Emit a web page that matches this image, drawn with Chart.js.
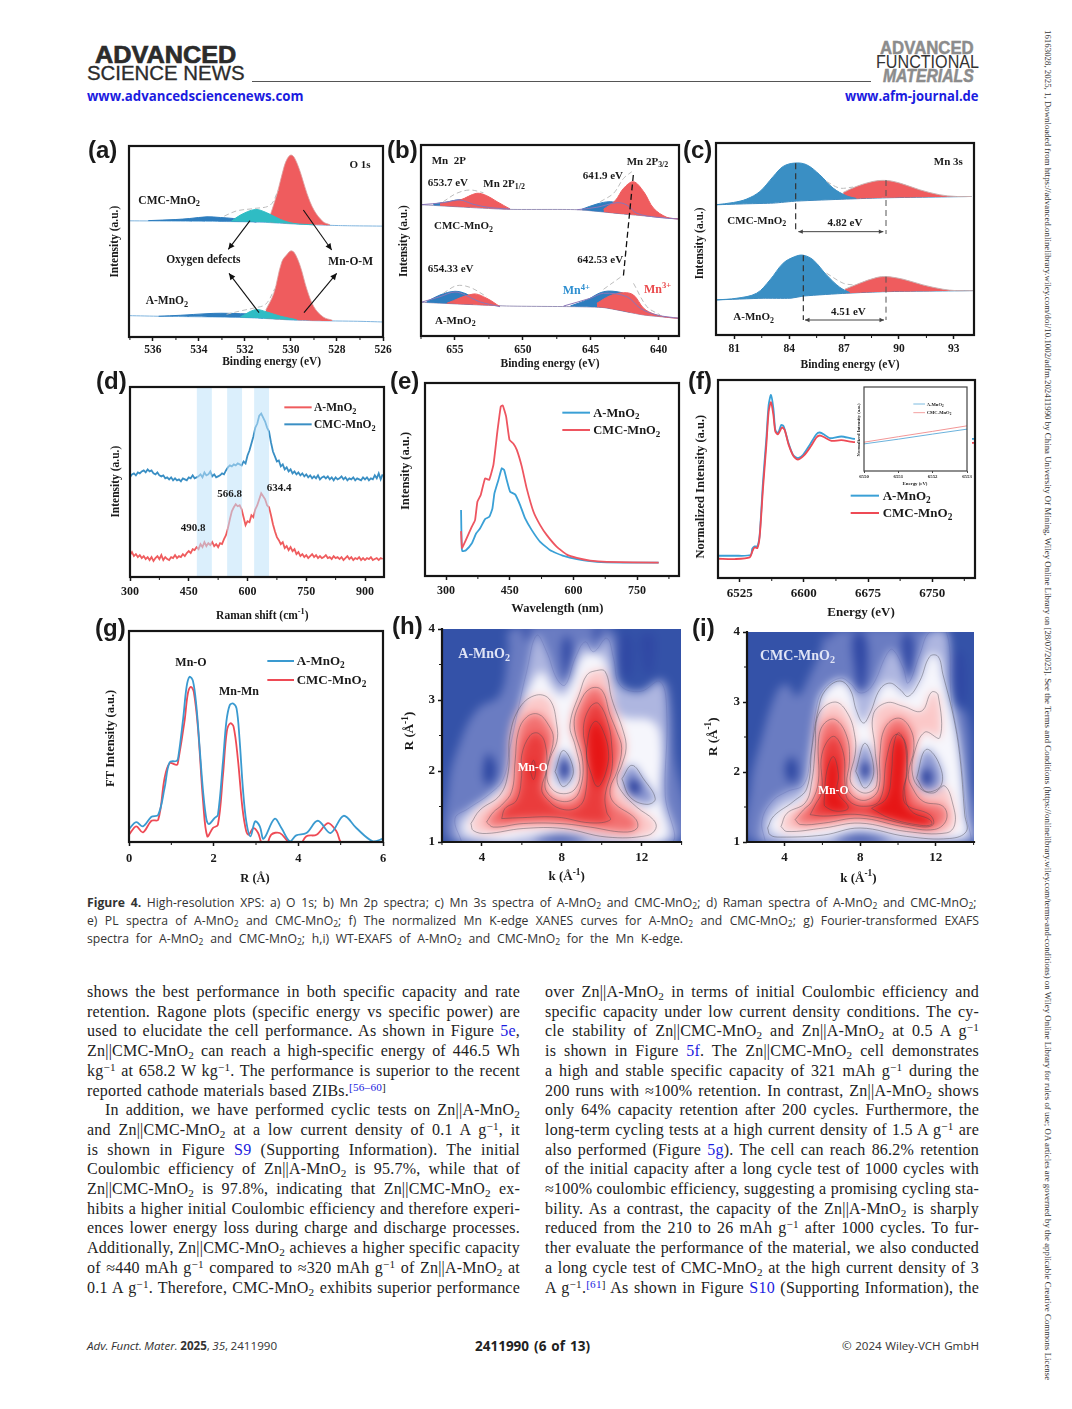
<!DOCTYPE html>
<html><head><meta charset="utf-8">
<script src="https://cdn.jsdelivr.net/npm/chart.js@4"></script>
<style>
html,body{margin:0;padding:0;background:#fff}
#page{position:relative;width:1072px;height:1409px;overflow:hidden;background:#fff}
canvas{position:absolute}
.t{position:absolute;white-space:nowrap;line-height:20px}
.t sub{font-size:70%;vertical-align:-0.25em;line-height:0}
.t sup{font-size:70%;vertical-align:0.45em;line-height:0}
.body{font-family:"Liberation Serif",serif;font-size:16px;letter-spacing:.22px;color:#222}
.cap{font-family:"Open Sans",sans-serif;font-size:12.2px;color:#333}
.lnk{color:#1b1be0}
</style></head><body><div id="page"></div>
<script>
// ---------- (a) O 1s ----------
const aTicks=[536,534,532,530,528,526];
const aCmcBaseX=[537,535,533,532,531,530,529,528,527.3,526];
const aCmcBaseY=[116,115.7,115.3,115,114.3,113,112,111.3,111,110.7];
const aCmcBlueX=[536.2,535,534.4,533.65,533.07,532.5,532,531.5];
const aCmcBlueY=[116.2,117.3,118.3,120,119.3,118.3,116.5,114.8];
const aCmcTealX=[532.6,532.2,531.55,531.05,530.45,529.9,529];
const aCmcTealY=[115.3,121.7,127.3,124,117.3,113.5,112];
const aCmcRedX=[530.9,530.6,530.3,530.15,530,529.85,529.6,529.3,529,528.6,528.3];
const aCmcRedY=[121.7,143.3,170,178.5,181.7,179,165,143,126.7,115,112];
const aCmcEnvX=[532.9,532.35,531.6,530.9,530.55];
const aCmcEnvY=[120.7,126,128.3,131.7,146.7];
const aABaseX=[537,535.7,533.4,531.9,531,530,529,527.1,526];
const aABaseY=[21.3,20.7,20,19.3,18.3,17,16.3,15.7,15];
const aABlueX=[535.75,534.8,533.65,533.05,532.2,531.6,531.2];
const aABlueY=[20.7,21.7,23.3,23.7,23.3,22.5,20];
const aATealX=[532.2,531.55,531.05,530.45,529.75];
const aATealY=[20,27.3,25,20.7,17.3];
const aARedX=[531.1,530.75,530.4,530.15,530,529.85,529.6,529.3,529,528.6,528.2];
const aARedY=[26.7,43.3,75,83,86,84,71,47,30,20,16.7];
const aAEnvX=[532.8,532.2,531.6,531.1,530.7];
const aAEnvY=[22.7,26,29,32.7,48.3];
// ---------- (b) Mn 2p ----------
const bTicks=[655,650,645,640];
const bCmcBaseX=[657.5,651.2,646,642.58,638.5], bCmcBaseY=[131.3,126.7,126.3,122,117];
const bCmcRedLX=[656.1,654.63,653.4,652.66,651.9,650.94], bCmcRedLY=[132.7,136,142.7,140.3,134.3,127];
const bCmcBlueLX=[656.6,655.6,654.63,653.9], bCmcBlueLY=[132,134,136.3,134.3];
const bCmcPurLX=[657.5,655.86,654.63,653.65,652.4,650.94], bCmcPurLY=[131.3,133.3,136,131.7,128.3,127];
const bCmcBlueRX=[645.66,644.55,643.57,642.83,642.3], bCmcBlueRY=[126.7,132,134.3,132,128];
const bCmcRedRX=[644.06,643.2,642.58,641.85,641.1,640.37,639.4,638.5], bCmcRedRY=[126.7,135.3,147.7,154.3,144.3,127.7,118.7,117];
const bCmcPurRX=[646,644.55,643.07,642.34,641.6,640.12,638.5], bCmcPurRY=[126.3,128.7,133.3,131,122.7,118.7,117];
const bCmcEnvLX=[655.86,654.88,653.9,652.9], bCmcEnvLY=[134.3,142.7,146,143.3];
const bCmcEnvRX=[644.3,643.32,642.58,641.97], bCmcEnvRY=[134.3,142.7,157.7,164.3];
const bABaseX=[657.5,651.2,646,644,641.1,638.5], bABaseY=[33.7,30,29.3,28.3,21,17.7];
const bARedLX=[655.6,653.65,652.66,651.68], bARedLY=[32.7,42,37.7,29.3];
const bABlueLX=[657.09,656.1,655,654.14,653.65], bABlueLY=[34.3,41,44.7,42,37.7];
const bAPurLX=[657.5,656.1,655,654.14,653.2,651.68], bAPurLY=[33.7,39.3,44,40.3,34.3,29.3];
const bABlueRX=[646.5,645.3,644.06,642.83,642.1], bABlueRY=[30,36,44.3,43.7,39.3];
const bARedRX=[644.55,643.57,642.58,641.85,641.1,640.37,639.4,638.5], bARedRY=[32.7,40.3,43.3,41,27.7,22,18.7,17.7];
const bAPurRX=[647,645.04,644.06,642.34,641.35,640.12,638.5], bAPurRY=[30,37.7,42.7,39.3,27.7,21,17.7];
const bAEnvLX=[655.86,654.88,653.9,652.66], bAEnvLY=[42.7,50.3,48.7,39.3];
const bAEnvR1X=[644.06,642.58], bAEnvR1Y=[46.7,61];
const bAEnvR2X=[641.85,640.86,639.88], bAEnvR2Y=[52.7,29.3,21];
// ---------- (c) Mn 3s ----------
const cTicks=[81,84,87,90,93];
const cCmcBaseX=[79.98,81.67,83.13,84.4,87.13,89.31,93.96], cCmcBaseY=[130,131,131.7,133.7,135.7,137,138.3];
const cCmcBlueX=[79.98,80.95,81.67,82.4,83.13,83.67,84.31,84.95,85.67,86.4,87.13,87.67], cCmcBlueY=[130,132.3,135.7,143.3,158.3,168.3,171.7,170,160,146.7,139,136.3];
const cCmcRedX=[86.95,87.67,88.58,89.31,90.04,91.13,92.22,93.13,93.96], cCmcRedY=[142.3,148.3,153.3,154.3,151.7,145,140,138.3,138.3];
const cCmcEnvX=[86.04,86.76,87.49], cCmcEnvY=[153.3,146.7,147.7];
const cABaseX=[79.98,82.58,84.04,84.85,87.13,89.31,94.04], cABaseY=[35,36.7,36.7,39,41.7,43.3,44.3];
const cABlueX=[79.98,81.13,82.22,82.95,83.67,84.31,84.76,85.31,86.04,86.76,87.31], cABlueY=[35,36.7,41.7,55,71.7,78.3,79.7,75,60,47.7,42.3];
const cARedX=[87.04,87.85,88.76,89.31,90.22,91.31,92.4,93.13,94.04], cARedY=[45.7,51.7,57.3,58.3,55.7,50,45.7,44.3,44.3];
const cAEnvX=[86.04,86.95,87.49], cAEnvY=[61.7,51.7,50];
// ---------- (d) Raman ----------
const dTicks=[300,450,600,750,900];
const dBands=[[470.6,509],[548,586],[617,655]];
const ramanX=[300,305,310,315,320,325,330,335,340,345,350,355,360,365,370,375,380,385,390,395,400,405,410,415,420,425,430,435,440,445,450,455,460,465,470,475,480,485,490,495,500,505,510,515,520,525,530,535,540,545,550,555,560,565,570,575,580,585,590,595,600,605,610,615,620,625,630,635,640,645,650,655,660,665,670,675,680,685,690,695,700,705,710,715,720,725,730,735,740,745,750,755,760,765,770,775,780,785,790,795,800,805,810,815,820,825,830,835,840,845,850,855,860,865,870,875,880,885,890,895,900,905,910,915,920,925,930,935,940,945];
const ramanCmc=[100,103,104,102,105,104,106,107,105,108,106,107,104,103,105,102,101,102,99,100,98,100,97,99,97,98,96,99,98,97,100,99,102,99,100,101,103,100,105,102,103,106,101,103,100,101,102,104,103,107,110,112,111,113,112,114,113,112,116,114,122,127,134,141,150,154,162,164,160,156,150,146,135,126,121,116,117,111,113,108,110,106,108,104,106,103,105,102,104,101,103,100,102,99,101,99,102,98,100,101,99,101,98,100,97,100,98,99,101,98,100,97,99,98,100,97,99,98,97,100,98,100,97,99,98,102,99,104,98,103];
const ramanA=[22,25,21,23,20,22,19,21,18,20,17,20,16,19,21,18,22,17,20,18,17,20,19,22,19,21,20,23,21,24,26,24,28,27,30,28,33,30,35,31,34,32,35,31,33,30,34,33,38,42,49,58,66,70,73,71,72,68,60,52,56,55,62,60,68,72,78,84,81,78,72,70,62,53,46,40,37,33,35,29,31,27,30,26,28,23,25,21,23,20,22,19,21,23,20,22,19,21,19,20,22,19,20,18,21,19,20,18,20,17,19,21,18,20,17,19,18,20,17,19,17,19,18,20,17,18,19,17,19,18];
// ---------- (e) PL ----------
const eTicks=[300,450,600,750];
const eBlueX=[335.4,337,339,347,360.5,370.8,380,392,402,409.3,414,423.4,431.3,436.8,443,451,462.7,474.5,486.3,502,521.7,545.3,576.7,608,655.3,718,800.8];
const eBlueY=[65.7,29,24.7,25.7,32.3,42.3,47.3,56.7,59,67.3,82.3,95.7,107.3,105.7,95.7,84,81.3,70.7,57.3,45.7,34,25.7,20,16.7,14,13.3,13.3];
const eRedX=[335.4,337.7,344.8,360.5,368.4,373.9,381.8,392,401.4,411.6,421,429,433.6,441.5,449.4,458.8,466.7,478.5,490,506,521.7,537.4,561,584.6,608,639.6,679,800.8];
const eRedY=[44.7,28,34,49,55.7,74,80.7,97.3,95.7,110.7,144,169,170,159,135.7,131.7,125.7,109,87.3,64,50.7,40.7,29,21.3,18,15.3,14,13.3];
// ---------- (f) XANES ----------
const fTicks=[6525,6600,6675,6750];
const fBlueX=[6499.7,6519.2,6537.9,6539.8,6542.5,6545.7,6548.4,6552.3,6556.2,6558.9,6561.6,6564.4,6566.7,6569.8,6573.7,6576.5,6581.5,6587.4,6593.2,6599.1,6606.9,6614.7,6618.6,6624.4,6630.3,6643.9,6659.5,6799.9];
const fBlueY=[22.3,22.3,23,29.3,31.7,31.7,43.3,96.7,140,173.3,183.3,170,148.3,145,153.3,151.7,136.7,123.3,120,123.3,133.3,144,145.7,143.3,140,141.7,139.3,139.3];
const fRedX=[6499.7,6519.2,6536.7,6539.8,6542.5,6545.7,6548.4,6552.3,6556.2,6558.9,6561.6,6564.4,6566.7,6569.8,6574.5,6577.6,6582.3,6588.2,6593.2,6600.2,6608,6614.7,6618.6,6624.4,6632.2,6643.9,6659.5,6799.9];
const fRedY=[19.3,19,20.7,26.7,30.7,30,41.7,90,133.3,166.7,176,163.3,146.7,144,150.7,148.3,133.3,121.7,118.7,122.7,131.7,140.7,142.7,140.7,137.3,138,136,135.3];
const insetTicks=[6550,6551,6552,6553];
const insetBlueY=[27,31.7,36.8,41.7];
const insetRedY=[28.7,34.2,39.5,45];
// ---------- (g) FT-EXAFS ----------
const gTicks=[0,2,4,6];
const gBlueX=[0,.17,.33,.53,.69,.84,.96,1.12,1.16,1.28,1.36,1.43,1.51,1.59,1.67,1.75,1.83,1.89,2.02,2.1,2.22,2.3,2.38,2.46,2.54,2.61,2.69,2.77,2.87,2.98,3.09,3.18,3.44,3.6,3.8,3.95,4.19,4.46,4.76,5.07,5.37,5.76,6];
const gBlueY=[13,20,15.7,25.3,27.3,54,80,81.3,84,124,155.7,165.7,161.7,137,94,50.7,22.3,18,24,27.3,80.7,120.7,137.3,139,134,104,54,20.7,5.7,20.7,15.7,3.3,23.3,14,.7,6.7,9,21.3,9,26.3,14,.7,3.3];
const gRedX=[0,.17,.33,.53,.69,.84,.96,1.13,1.16,1.31,1.39,1.46,1.53,1.63,1.75,1.85,1.98,2.1,2.22,2.31,2.39,2.47,2.57,2.68,2.77,2.83,2.94,3.05,3.13,3.23,3.36,3.56,3.77,3.99,4.19,4.43,4.7,4.9,5.02,5.3,5.75,6];
const gRedY=[7.3,15.7,9.7,21.3,22.3,64,79,77.3,80.7,120.7,149,155.7,150.7,114,40.7,5.7,14,17.3,67.3,110.7,119,115.7,84,34,10.7,7.3,14,9,-1,-6,7.3,9,0,-6,5.7,7.3,19,10.7,-1,-3,-.5,-5];
// ---------- (h) WT-EXAFS A-MnO2 : contour levels as [k, R] ----------
const heatTicksX=[4,8,12], heatTicksY=[1,2,3,4];
const hMid=[[2.56,1],[2.31,1.75],[2.98,2.46],[3.82,2.88],[4.9,3.07],[5.32,3.68],[5.49,4],[10.42,4],[10.76,3.26],[11.42,3.07],[12.6,3.07],[12.93,3.3],[13.35,3.16],[13.6,2.32],[13.77,1]];
const hLav=[[2.98,1],[2.65,1.33],[3.31,1.47],[4.4,1.68],[5.07,1.89],[5.4,2.32],[5.82,2.88],[6.24,3.4],[6.74,3.91],[7.24,3.68],[7.75,3.3],[8.16,3.21],[8.67,3.59],[9.17,3.82],[9.59,3.68],[10.25,3.87],[10.59,3.59],[10.92,3.21],[11.93,3.12],[12.93,3.26],[13.26,2.79],[13.18,1.66],[13.51,1]];
const hWhite=[[3.06,1.14],[3.48,1.42],[4.4,1.63],[5.15,1.85],[5.4,2.32],[5.74,2.74],[6.41,3.19],[6.99,3.4],[7.58,3.16],[8.08,3.07],[8.5,3.26],[9,3.61],[9.42,3.66],[10.09,3.59],[10.51,3.16],[10.92,2.79],[12.6,2.69],[13.01,2.32],[12.93,1.66],[13.26,1.05],[11.09,1.02],[9.42,1.09],[7.91,1.13],[6.41,1.08],[4.9,1.02]];
const hC1=[[3.45,1.26],[3.9,1.45],[4.9,1.66],[5.32,1.99],[5.4,2.5],[5.91,2.9],[6.74,3.07],[7.41,3],[7.75,2.65],[7.75,2.41],[7.41,2.18],[7.24,1.94],[7.5,1.75],[8.08,1.68],[8.67,1.75],[8.92,1.99],[8.67,2.36],[8.41,2.65],[8.92,3.12],[9.25,3.35],[9.67,3.41],[10.17,3.4],[10.5,3.02],[11.09,2.55],[11.22,2.32],[11,2.08],[10.76,1.89],[11,1.71],[11.76,1.49],[12.6,1.31],[12.71,1.19],[12.26,1.09],[10.25,1.07],[8.08,1.19],[6.07,1.19],[4.23,1.12],[3.57,1.16]];
const hC2=[[4.23,1.28],[4.57,1.42],[4.99,1.52],[5.49,1.71],[5.66,2.13],[5.82,2.55],[6.24,2.76],[6.83,2.8],[7.33,2.65],[7.58,2.46],[7.33,2.13],[7.16,1.85],[7.24,1.71],[7.75,1.59],[8.5,1.59],[8.92,1.75],[9.05,2.13],[8.62,2.65],[8.92,2.97],[9.42,3.16],[10,3.14],[10.42,2.79],[10.76,2.55],[11,2.32],[10.76,1.99],[10.42,1.75],[10.59,1.56],[11.68,1.33],[11.76,1.19],[11.09,1.14],[9.42,1.21],[7.91,1.26],[6.07,1.26],[4.57,1.21]];
const hC3=[[4.99,1.33],[5.15,1.47],[5.74,1.59],[5.99,1.94],[5.99,2.22],[6.41,2.5],[6.83,2.53],[7.16,2.39],[7.24,2.03],[6.99,1.75],[7.24,1.61],[7.91,1.47],[8.75,1.48],[9.17,1.66],[9.25,2.22],[9.08,2.6],[9.42,2.9],[9.84,2.95],[10.34,2.65],[10.51,2.32],[10.51,2.03],[10.17,1.66],[10.25,1.42],[10.42,1.31],[9.42,1.27],[7.75,1.35],[5.74,1.34]];
const hC4a=[[9.25,2.32],[9.42,2.6],[9.72,2.7],[10.09,2.55],[10.34,2.27],[10.25,2.03],[9.92,1.8],[9.72,1.79],[9.5,1.94],[9.25,2.18]];
const hC4b=[[6.41,2.01],[6.58,2.15],[6.69,2.01],[6.58,1.88]];
const hSpotA=[[4.07,1.94],[4.32,2.25],[4.7,2.01],[4.32,1.8]];
const hSpotBo=[[7.66,1.99],[8.08,2.29],[8.58,1.99],[8.08,1.78]];
const hSpotBi=[[7.91,2.01],[8.11,2.18],[8.38,2.01],[8.11,1.89]];
const hSpotCo=[[11.01,1.89],[11.51,2.08],[12.09,1.89],[12.68,1.61],[12.26,1.53],[11.43,1.63]];
const hSpotCi=[[11.34,1.78],[11.59,1.89],[11.93,1.75],[11.59,1.66]];
const hDark=[[[11,3.91],[11.42,3.91],[11.51,3.4],[11.17,3.3],[10.92,3.59]],[[12.01,3.91],[12.6,3.91],[12.51,3.4],[12.26,3.35],[12.01,3.63]],[[8,3.73],[8.25,3.91],[8.5,3.73],[8.25,3.3]],[[6.07,4],[6.41,4],[6.24,3.84]],[[9.59,4],[9.95,4],[9.75,3.84]],[[6.58,1],[7.91,1.09],[9.25,1]]];
// ---------- (i) WT-EXAFS CMC-MnO2 ----------
const iMid=[[2.37,1],[2.19,1.77],[2.8,2.49],[3.6,3.15],[4.12,3.25],[4.65,3.08],[5.44,3.44],[5.97,3.77],[6.23,4],[12.56,4],[12.73,3.77],[12.82,3.01],[13.61,2.82],[13.88,1.87],[13.88,1]];
const iLav=[[2.98,1],[2.8,1.3],[3.33,1.58],[4.12,1.72],[5,1.82],[5.35,2.2],[5.67,2.91],[6.06,3.18],[6.93,3.34],[7.46,3.27],[7.99,3.13],[8.6,3.22],[9.4,3.68],[9.71,3.75],[10.27,3.49],[10.54,3.27],[11.15,3.68],[11.68,4],[12.56,4],[12.82,3.06],[13.26,2.34],[13.61,1.39],[13.79,1]];
const iWhite=[[3.16,1.2],[3.77,1.49],[4.83,1.63],[5.18,1.87],[5.44,2.39],[5.79,2.91],[6.06,3.13],[6.93,3.3],[7.46,3.18],[8.08,2.7],[8.6,2.91],[9.13,3.22],[9.66,3.27],[10.45,3.1],[11.15,3.32],[11.68,3.68],[12.12,3.65],[12.38,3.34],[12.82,2.96],[13.26,2.34],[13.61,1.34],[13.61,1.1],[12.56,1.05],[10.27,1.08],[7.99,1.18],[6.41,1.08],[4.3,1.05]];
const iC0=[[3.1,1.2],[3.42,1.37],[4.47,1.58],[5.18,1.77],[5.44,2.34],[5.79,2.91],[6.14,3.16],[6.9,3.3],[7.46,3.18],[7.81,2.87],[8.17,2.7],[8.52,2.84],[9.04,3.18],[9.57,3.27],[10.1,3.18],[10.54,3.08],[11.15,3.3],[11.68,3.65],[12.12,3.65],[12.38,3.39],[12.91,2.82],[13.26,2.25],[13.53,1.39],[13.61,1.15],[12.73,1.05],[10.45,1.08],[7.99,1.2],[6.06,1.1],[3.77,1.07],[3.24,1.1]];
const iC1=[[3.81,1.22],[4.12,1.41],[5.09,1.56],[5.44,1.87],[5.62,2.34],[5.79,2.82],[6.67,3],[7.37,2.82],[7.73,2.49],[7.73,2.25],[7.46,1.91],[7.73,1.77],[8.34,1.7],[8.87,1.82],[8.78,2.34],[8.69,2.82],[9.4,2.99],[10.27,2.94],[11.24,2.87],[11.77,3.14],[12.12,3.1],[12.21,2.49],[11.42,2.57],[10.84,2.25],[10.77,1.96],[11.15,1.77],[11.86,1.7],[12.47,1.8],[12.91,1.53],[13,1.25],[12.56,1.13],[10.45,1.15],[7.99,1.27],[6.06,1.2],[4.12,1.15]];
const iC2=[[4.56,1.32],[5,1.46],[5.44,1.58],[5.79,1.87],[5.79,2.44],[6.06,2.68],[6.67,2.75],[7.29,2.51],[7.43,2.15],[7.29,1.82],[7.64,1.65],[8.34,1.6],[8.96,1.75],[9.04,2.25],[9.31,2.63],[10.01,2.77],[10.63,2.63],[10.84,2.34],[10.54,1.96],[10.77,1.77],[11.33,1.58],[12.38,1.51],[12.56,1.32],[11.94,1.18],[10.27,1.22],[7.99,1.34],[6.06,1.27],[4.83,1.25]];
const iC3=[[5.35,1.39],[5.62,1.53],[5.97,1.72],[5.97,2.25],[6.58,2.51],[7.11,2.27],[7.2,1.82],[7.37,1.6],[8.17,1.51],[9.04,1.6],[9.4,2.2],[9.83,2.53],[10.36,2.44],[10.49,2.01],[10.27,1.72],[10.45,1.53],[11.68,1.39],[11.86,1.25],[11.15,1.22],[7.99,1.39],[6.06,1.37]];
const iC4a=[[6.09,1.58],[6.23,2.01],[6.58,2.22],[6.85,1.96],[6.79,1.72],[7.37,1.49],[6.76,1.44],[6.14,1.51]];
const iC4b=[[8.6,1.48],[9.4,1.63],[9.66,2.01],[9.75,2.34],[10.01,2.56],[10.36,2.41],[10.45,2.01],[10.36,1.68],[10.71,1.44],[11.68,1.32],[11.77,1.25],[11.15,1.24],[9.57,1.34]];
const iSpotA=[[4.04,2.03],[4.39,2.22],[4.69,2.01],[4.39,1.84]];
const iSpotBo=[[7.76,2.01],[8.25,2.41],[8.72,2.01],[8.25,1.77]];
const iSpotBi=[[8.02,2.03],[8.29,2.15],[8.52,2.03],[8.29,1.91]];
const iSpotCo=[[10.98,1.91],[11.47,2.32],[12.12,2.15],[12.3,1.82],[11.5,1.72]];
const iSpotCi=[[11.24,1.91],[11.5,2.06],[11.8,1.91],[11.5,1.8]];
const iDark=[[[7.64,3.96],[8.25,3.96],[8.34,3.39],[7.99,3.13],[7.73,3.44]],[[10.27,3.96],[10.71,3.96],[10.8,3.53],[10.54,3.34],[10.27,3.63]],[[12.91,3.68],[13.44,3.68],[13.53,2.96],[13.09,3.06]],[[6.58,1],[7.99,1.1],[9.57,1]],[[6.14,4],[6.5,4],[6.32,3.89]]];

// ---------- styles ----------
const RED='#ef5c5e',BLUE='#3a93c9',TEAL='#2fbcc4',DBLUE='#2e7dbe',PUR='#8a76b8',GRAYD='#bdbdbd';
const heatCol={base:'#3452a8',mid:'#6a7cc2',lav:'#aeb6e0',white:'#f6f6fc',pale:'#fbc8c8',pink:'#f27070',red:'#ea3c3c',deep:'#e61616',dark:'#3048a4',ring:'#8a96d0'};
const SERIF='"Liberation Serif",serif', SANS='"Liberation Sans",sans-serif';
const ML=48,MB=50,MT=10,MR=14;
const page=document.getElementById('page');

function rich(ctx,str,x,y,size,color,align,weight,family){
  const parts=str.split(/(_\{[^}]*\}|\^\{[^}]*\})/).filter(s=>s.length);
  const runs=parts.map(p=>{const m=p.match(/^([_^])\{(.*)\}$/);return m?{s:m[2],k:m[1]}:{s:p,k:''}});
  let w=0;
  runs.forEach(r=>{const fs=r.k?size*.72:size;ctx.font=`${weight} ${fs}px ${family}`;r.w=ctx.measureText(r.s).width;r.fs=fs;w+=r.w});
  let cx=align==='c'?x-w/2:x;
  ctx.fillStyle=color;ctx.textBaseline='middle';ctx.textAlign='left';
  runs.forEach(r=>{ctx.font=`${weight} ${r.fs}px ${family}`;const dy=r.k==='_'?size*.3:r.k==='^'?-size*.33:0;ctx.fillText(r.s,cx,y+dy);cx+=r.w});
}
function smoothPath(g,pts){
  // closed cardinal spline, same tension as the contour lines drawn by the line element
  const n=pts.length,T=.4,cp=pts.map((p,i)=>{
    const a=pts[(i+n-1)%n],b=pts[(i+1)%n];
    const d1=Math.hypot(p[0]-a[0],p[1]-a[1]),d2=Math.hypot(b[0]-p[0],b[1]-p[1]),s=d1+d2||1;
    const fa=T*d1/s,fb=T*d2/s;
    return{px:p[0]-fa*(b[0]-a[0]),py:p[1]-fa*(b[1]-a[1]),nx:p[0]+fb*(b[0]-a[0]),ny:p[1]+fb*(b[1]-a[1])};
  });
  g.beginPath();g.moveTo(pts[0][0],pts[0][1]);
  for(let i=0;i<n;i++){const j=(i+1)%n;g.bezierCurveTo(cp[i].nx,cp[i].ny,cp[j].px,cp[j].py,pts[j][0],pts[j][1])}
  g.closePath();
}
function arrow(ctx,x1,y1,x2,y2,size){
  const an=Math.atan2(y2-y1,x2-x1);
  ctx.beginPath();ctx.moveTo(x2,y2);
  ctx.lineTo(x2-size*Math.cos(an-.45),y2-size*Math.sin(an-.45));
  ctx.lineTo(x2-size*Math.cos(an+.45),y2-size*Math.sin(an+.45));ctx.closePath();ctx.fill();
}
const deco={id:'deco',
  beforeDatasetsDraw(c,_,o){
    const ctx=c.ctx,a=c.chartArea;
    if(o.heat){
      const off=document.createElement('canvas');off.width=c.width;off.height=c.height;
      const g=off.getContext('2d');g.fillStyle=o.heat.base;g.fillRect(0,0,c.width,c.height);
      o.heat.layers.forEach(L=>{g.fillStyle=L[1];
        smoothPath(g,L[0].map(p=>[c.scales.x.getPixelForValue(p[0]),c.scales.y.getPixelForValue(p[1])]));g.fill()});
      ctx.save();ctx.beginPath();ctx.rect(a.left,a.top,a.width,a.height);ctx.clip();
      ctx.fillStyle=o.heat.base;ctx.fillRect(a.left,a.top,a.width,a.height);
      ctx.filter=`blur(${o.heat.blur}px)`;ctx.drawImage(off,0,0);ctx.restore();
    }
  },
  afterDatasetsDraw(c,_,o){
    const ctx=c.ctx,a=c.chartArea;
    if(o.bands){ctx.save();ctx.fillStyle='rgba(190,226,250,.55)';
      o.bands.forEach(b=>{const x1=c.scales.x.getPixelForValue(b[0]),x2=c.scales.x.getPixelForValue(b[1]);ctx.fillRect(x1,a.top,x2-x1,a.height)});ctx.restore()}
    ctx.save();ctx.strokeStyle=o.frameColor||'#151515';ctx.lineWidth=o.frameW||2.2;ctx.lineCap='square';
    if(o.frame==='box')ctx.strokeRect(a.left,a.top,a.width,a.height);
    else{ctx.beginPath();ctx.moveTo(a.left,a.top);ctx.lineTo(a.left,a.bottom);ctx.lineTo(a.right,a.bottom);ctx.stroke()}
    ctx.restore();
  },
  afterDraw(c,_,o){
    const ctx=c.ctx,a=c.chartArea;
    ctx.save();ctx.strokeStyle='#151515';ctx.lineWidth=1;
    (o.minorX||[]).forEach(v=>{const x=c.scales.x.getPixelForValue(v);ctx.beginPath();ctx.moveTo(x,a.bottom);ctx.lineTo(x,a.bottom+(o.minorLen||3));ctx.stroke()});
    (o.minorY||[]).forEach(v=>{const y=c.scales.y.getPixelForValue(v);ctx.beginPath();ctx.moveTo(a.left,y);ctx.lineTo(a.left-(o.minorLen||3),y);ctx.stroke()});
    ctx.restore();
    const an=o.anno;if(!an)return;
    const cl=c.canvas.offsetLeft,ct=c.canvas.offsetTop;
    const X=z=>an.ox+z/3-cl,Y=z=>an.oy+z/3-ct;
    (an.lines||[]).forEach(l=>{ctx.save();ctx.strokeStyle=l[4]||'#111';ctx.lineWidth=l[5]||1;ctx.setLineDash(l[6]||[]);
      ctx.beginPath();ctx.moveTo(X(l[0]),Y(l[1]));ctx.lineTo(X(l[2]),Y(l[3]));ctx.stroke();ctx.restore()});
    (an.arrows||[]).forEach(l=>{ctx.save();ctx.strokeStyle=ctx.fillStyle=l[4]||'#111';ctx.lineWidth=l[5]||1;
      ctx.beginPath();ctx.moveTo(X(l[0]),Y(l[1]));ctx.lineTo(X(l[2]),Y(l[3]));ctx.stroke();
      arrow(ctx,X(l[0]),Y(l[1]),X(l[2]),Y(l[3]),l[6]||7);
      if(l[7])arrow(ctx,X(l[2]),Y(l[3]),X(l[0]),Y(l[1]),l[6]||7);ctx.restore()});
    (an.texts||[]).forEach(t=>{const size=t[4]||an.size||11,color=t[5]||'#1a1a1a',al=t[3]||'l';
      if(t[6]){ctx.save();ctx.translate(X(t[1]),Y(t[2]));ctx.rotate(-Math.PI/2);rich(ctx,t[0],0,0,size,color,'c','bold',SERIF);ctx.restore()}
      else rich(ctx,t[0],X(t[1]),Y(t[2]),size,color,al,'bold',SERIF)});
  }
};
Chart.register(deco);

function S(xs,ys,o){return Object.assign({data:xs.map((x,i)=>({x,y:ys[i]})),showLine:true,pointRadius:0,borderWidth:1,borderColor:'#888',backgroundColor:'transparent',fill:false,tension:.35},o||{})}
function loop(pts,o){const d=pts.concat([pts[0]]);return Object.assign({data:d.map(p=>({x:p[0],y:p[1]})),showLine:true,pointRadius:0,borderWidth:.7,borderColor:'rgba(70,70,80,.6)',fill:false,tension:.4},o||{})}

function panel(box,cfg){
  const ml=cfg.ml??ML,mb=cfg.mb??MB,mt=cfg.mt??MT,mr=cfg.mr??MR;
  const cv=document.createElement('canvas');
  const W=box.r-box.l+ml+mr,H=box.b-box.t+mt+mb;
  cv.width=W;cv.height=H;cv.style.left=(box.l-ml)+'px';cv.style.top=(box.t-mt)+'px';cv.style.width=W+'px';cv.style.height=H+'px';
  if(cfg.paper)cv.style.background=cfg.paper;
  page.appendChild(cv);
  const tickFont={family:SERIF,weight:'bold',size:cfg.tickSize||11.5};
  const tl=cfg.tickLen??4;
  const xOpt={type:'linear',min:cfg.x[0],max:cfg.x[1],reverse:!!cfg.reverse,
    afterBuildTicks(s){s.ticks=cfg.xTicks.map(v=>({value:v}))},
    afterFit(s){s.height=mb;s.paddingLeft=s.paddingRight=0},
    border:{display:false},
    grid:{display:true,drawOnChartArea:false,drawTicks:true,tickLength:tl,tickWidth:cfg.tickW||1.5,tickColor:'#151515',color:'#151515'},
    ticks:{display:true,autoSkip:false,maxRotation:0,minRotation:0,padding:cfg.tickPad??2,color:'#1a1a1a',font:tickFont,callback:v=>String(v)}};
  const yOpt={type:'linear',min:cfg.y[0],max:cfg.y[1],
    afterFit(s){s.width=ml;s.paddingTop=s.paddingBottom=0},border:{display:false}};
  if(cfg.yTicks){Object.assign(yOpt,{afterBuildTicks(s){s.ticks=cfg.yTicks.map(v=>({value:v}))},
    grid:{display:true,drawOnChartArea:false,drawTicks:true,tickLength:tl,tickWidth:1.5,tickColor:'#151515',color:'#151515'},
    ticks:{display:true,autoSkip:false,padding:3,color:'#1a1a1a',font:tickFont,callback:v=>String(v)}})}
  else Object.assign(yOpt,{grid:{display:false},ticks:{display:false}});
  const ds=cfg.ds;ds.forEach((d,i)=>{d.order=ds.length-i});
  return new Chart(cv,{type:'scatter',data:{datasets:ds},options:{responsive:false,animation:false,devicePixelRatio:1,events:[],
    layout:{padding:{top:mt,right:mr,left:0,bottom:0}},
    scales:{x:xOpt,y:yOpt},
    plugins:{legend:{display:false},title:{display:false},tooltip:{enabled:false},
      deco:{frame:cfg.frame||'box',frameColor:cfg.frameColor,frameW:cfg.frameW,bands:cfg.bands,minorX:cfg.minorX,minorY:cfg.minorY,minorLen:cfg.minorLen,heat:cfg.heat,anno:cfg.anno}}}});
}
const fillTo=(i,c)=>({fill:{target:i},backgroundColor:c});

// (a)
panel({l:129,r:383,t:146,b:337},{x:[526,537.04],reverse:true,y:[0,190.7],xTicks:aTicks,minorX:[535,533,531,529,527,537],tickSize:11.5,
 ds:[
  S(aCmcBaseX,aCmcBaseY,{borderColor:'#7fb4de',tension:.2}),
  S(aABaseX,aABaseY,{borderColor:'#7fb4de',tension:.2}),
  S(aCmcRedX,aCmcRedY,{...fillTo(0,RED),borderColor:'#d9a0a0',borderWidth:.8}),
  S(aCmcBlueX,aCmcBlueY,{...fillTo(0,DBLUE),borderColor:DBLUE}),
  S(aCmcTealX,aCmcTealY,{...fillTo(0,TEAL),borderColor:TEAL}),
  S(aARedX,aARedY,{...fillTo(1,RED),borderColor:'#d9a0a0',borderWidth:.8}),
  S(aABlueX,aABlueY,{...fillTo(1,DBLUE),borderColor:DBLUE}),
  S(aATealX,aATealY,{...fillTo(1,TEAL),borderColor:TEAL}),
  S(aCmcEnvX,aCmcEnvY,{borderColor:GRAYD,borderDash:[5,3]}),
  S(aAEnvX,aAEnvY,{borderColor:GRAYD,borderDash:[5,3]})
 ],
 anno:{ox:80,oy:130,size:11.5,
  arrows:[[510,272,445,358,'#111',1.1,7],[670,240,755,360,'#111',1.1,7],[537,548,447,430,'#111',1.1,7],[672,548,770,430,'#111',1.1,7]],
  texts:[['O 1s',840,105,'c',11],['CMC-MnO_{2}',175,212],['Oxygen defects',370,391,'c'],['Mn-O-M',812,397,'c'],['A-MnO_{2}',197,513],
   ['Binding energy (eV)',575,697,'c',11.5],['Intensity (a.u.)',105,335,'c',11.5,null,true]]}});
// (b)
panel({l:421,r:679,t:145,b:336},{x:[638.5,657.5],reverse:true,y:[0,191],xTicks:bTicks,minorX:[657.5,652.5,647.5,642.5],tickSize:11.5,tickPad:3,
 ds:[
  S(bCmcBaseX,bCmcBaseY,{borderColor:'#9a93b8',tension:.2}),
  S(bABaseX,bABaseY,{borderColor:'#9a93b8',tension:.2}),
  S(bCmcBlueLX,bCmcBlueLY,{...fillTo(0,DBLUE),borderColor:DBLUE}),
  S(bCmcRedLX,bCmcRedLY,{...fillTo(0,RED),borderColor:RED}),
  S(bCmcBlueRX,bCmcBlueRY,{...fillTo(0,DBLUE),borderColor:DBLUE}),
  S(bCmcRedRX,bCmcRedRY,{...fillTo(0,RED),borderColor:RED}),
  S(bCmcPurLX,bCmcPurLY,{borderColor:PUR}),
  S(bCmcPurRX,bCmcPurRY,{borderColor:PUR}),
  S(bABlueLX,bABlueLY,{...fillTo(1,DBLUE),borderColor:DBLUE}),
  S(bARedLX,bARedLY,{...fillTo(1,RED),borderColor:RED}),
  S(bABlueRX,bABlueRY,{...fillTo(1,DBLUE),borderColor:DBLUE}),
  S(bARedRX,bARedRY,{...fillTo(1,RED),borderColor:RED}),
  S(bAPurLX,bAPurLY,{borderColor:PUR}),
  S(bAPurRX,bAPurRY,{borderColor:PUR}),
  S(bCmcEnvLX,bCmcEnvLY,{borderColor:GRAYD,borderDash:[5,3]}),
  S(bCmcEnvRX,bCmcEnvRY,{borderColor:GRAYD,borderDash:[5,3]}),
  S(bAEnvLX,bAEnvLY,{borderColor:GRAYD,borderDash:[5,3]}),
  S(bAEnvR1X,bAEnvR1Y,{borderColor:GRAYD,borderDash:[5,3]}),
  S(bAEnvR2X,bAEnvR2Y,{borderColor:GRAYD,borderDash:[5,3]})
 ],
 anno:{ox:390,oy:130,size:11,
  lines:[[730,135,700,440,'#111',1.3,[6,3.5]]],
  texts:[['Mn  2P',125,93],['Mn 2P_{3/2}',710,96],['641.9 eV',578,138],['653.7 eV',113,160],['Mn 2P_{1/2}',280,161],['CMC-MnO_{2}',132,289],['642.53 eV',562,390],['654.33 eV',113,418],
   ['Mn^{4+}',518,484,'l',12,'#2f8fd0'],['Mn^{3+}',762,480,'l',12,'#ea4a4c'],['A-MnO_{2}',135,573],
   ['Binding energy (eV)',480,703,'c',11.5],['Intensity (a.u.)',42,333,'c',11.5,null,true]]}});
// (c)
panel({l:716,r:974,t:143,b:335},{x:[80,94.1],y:[0,191.7],xTicks:cTicks,minorX:[82.5,85.5,88.5,91.5],tickSize:11.5,tickPad:3,
 ds:[
  S(cCmcBaseX,cCmcBaseY,{borderColor:'#3f86bb',tension:.2}),
  S(cABaseX,cABaseY,{borderColor:'#3f86bb',tension:.2}),
  S(cCmcRedX,cCmcRedY,{...fillTo(0,RED),borderColor:'#c9b0b0'}),
  S(cCmcBlueX,cCmcBlueY,{...fillTo(0,'#3a8fc4'),borderColor:'#3a8fc4'}),
  S(cARedX,cARedY,{...fillTo(1,RED),borderColor:'#c9b0b0'}),
  S(cABlueX,cABlueY,{...fillTo(1,'#3a8fc4'),borderColor:'#3a8fc4'}),
  S(cCmcEnvX,cCmcEnvY,{borderColor:GRAYD,borderDash:[5,3]}),
  S(cAEnvX,cAEnvY,{borderColor:GRAYD,borderDash:[5,3]})
 ],
 anno:{ox:680,oy:130,size:11,
  lines:[[347,100,347,305,'#333',1.2,[6,4]],[618,150,618,312,'#555',1,[6,4]],[370,376,370,570,'#333',1.2,[6,4]],[618,440,618,570,'#555',1,[6,4]]],
  arrows:[[355,305,610,305,'#444',1,5,true],[375,570,612,570,'#444',1,5,true]],
  texts:[['Mn 3s',805,97,'c'],['CMC-MnO_{2}',142,273],['4.82 eV',495,279,'c'],['A-MnO_{2}',160,562],['4.51 eV',505,546,'c'],
   ['Binding energy (eV)',510,704,'c',11.5],['Intensity (a.u.)',60,340,'c',11.5,null,true]]}});
// (d)
panel({l:130,r:384,t:387,b:577},{x:[300,948.5],y:[0,190.7],xTicks:dTicks,minorX:[375,525,675,825],tickSize:12,tickPad:4,bands:dBands,
 ds:[
  S(ramanX,ramanCmc,{borderColor:'#3a8fc4',borderWidth:1.8,tension:0}),
  S(ramanX,ramanA,{borderColor:RED,borderWidth:1.8,tension:0})
 ],
 anno:{ox:90,oy:365,size:11.5,
  lines:[[583,127,665,127,RED,2],[583,178,665,178,'#3a8fc4',2]],
  texts:[['A-MnO_{2}',672,129],['CMC-MnO_{2}',672,180],['490.8',272,488,'l',11],['566.8',382,388,'l',11],['634.4',530,370,'l',11],
   ['Raman shift (cm^{-1})',517,752,'c',11.5],['Intensity (a.u.)',78,350,'c',11.5,null,true]]}});
// (e)
panel({l:425,r:679,t:383,b:576},{x:[250.5,848.7],y:[0,192.3],xTicks:eTicks,minorX:[375,525,675,825],tickSize:12,tickPad:4,
 ds:[
  S(eBlueX,eBlueY,{borderColor:'#3aa0d6',borderWidth:1.8,tension:.12}),
  S(eRedX,eRedY,{borderColor:'#ee5560',borderWidth:1.8,tension:.12})
 ],
 anno:{ox:390,oy:365,size:12.5,
  lines:[[517,143,600,143,'#3aa0d6',2],[517,195,600,195,'#ee5560',2]],
  texts:[['A-MnO_{2}',610,145],['CMC-MnO_{2}',610,198],['Wavelength (nm)',502,730,'c',12.5],['Intensity (a.u.)',48,318,'c',12.5,null,true]]}});
// (f)
panel({l:718,r:975,t:380,b:578},{x:[6499.7,6800],y:[0,198.3],xTicks:fTicks,minorX:[6562.5,6637.5,6712.5,6787.5],tickSize:13,tickPad:4,
 ds:[
  S(fBlueX,fBlueY,{borderColor:'#3aa0d6',borderWidth:1.8,tension:.25}),
  S(fRedX,fRedY,{borderColor:'#ee4a55',borderWidth:1.8,tension:.25})
 ],
 anno:{ox:685,oy:365,size:13,
  lines:[[497,392,582,392,'#3aa0d6',2],[497,444,582,444,'#ee4a55',2]],
  texts:[['A-MnO_{2}',593,394],['CMC-MnO_{2}',593,446],['Energy (eV)',528,744,'c',13],['Normalized Intensity (a.u.)',48,365,'c',12.5,null,true]]}});
panel({l:864,r:967,t:387,b:471},{ml:9,mr:5,mt:2,mb:17,paper:'#fff',x:[6550,6553],y:[0,83.7],xTicks:insetTicks,tickSize:4.8,tickLen:2,tickW:.8,tickPad:1,frameColor:'#444',frameW:1.2,
 ds:[
  S(insetTicks,insetBlueY,{borderColor:'#5aa9d8',borderWidth:.9,tension:0}),
  S(insetTicks,insetRedY,{borderColor:'#f08a8a',borderWidth:.9,tension:0})
 ],
 anno:{ox:685,oy:365,size:4.6,
  lines:[[685,117,720,117,'#5aa9d8',.8],[685,143,720,143,'#f08a8a',.8]],
  texts:[['A-MnO_{2}',725,118],['CMC-MnO_{2}',725,144],['Energy (eV)',690,355,'c',4.8],['Normalized Intensity (a.u.)',522,195,'c',4.6,null,true]]}});
// (g)
panel({l:129,r:383,t:631,b:842},{x:[0,6],y:[0,211.7],xTicks:gTicks,minorX:[1,3,5],tickSize:12.5,tickPad:5,
 ds:[
  S(gRedX,gRedY,{borderColor:'#ee4a55',borderWidth:1.8,tension:.35}),
  S(gBlueX,gBlueY,{borderColor:'#3a9ad0',borderWidth:1.8,tension:.35})
 ],
 anno:{ox:90,oy:615,size:13,
  lines:[[532,138,612,138,'#3a9ad0',2],[532,195,612,195,'#ee4a55',2]],
  texts:[['A-MnO_{2}',620,140],['CMC-MnO_{2}',620,198],['Mn-O',303,145,'c',12],['Mn-Mn',447,232,'c',12],['R (Å)',495,790,'c',12.5],['FT Intensity (a.u.)',62,370,'c',12.5,null,true]]}});
// (h)
panel({l:442,r:681,t:629,b:842},{x:[2,13.97],y:[1,4],xTicks:heatTicksX,yTicks:heatTicksY,minorX:[2,6,10,14],minorY:[1.5,2.5,3.5],tickSize:13,frame:'axes',tickPad:4,
 heat:{base:heatCol.base,blur:5,layers:[[hMid,heatCol.mid],[hLav,heatCol.lav],[hWhite,heatCol.white],[hC1,heatCol.pale],[hC2,heatCol.pink],[hC3,heatCol.red],[hC4a,heatCol.deep],[hC4b,heatCol.deep],
   ...hDark.map(p=>[p,heatCol.dark]),[hSpotA,'#2a44a0'],[hSpotBo,heatCol.ring],[hSpotBi,'#1c3294'],[hSpotCo,heatCol.ring],[hSpotCi,'#1c3294']]},
 ds:[loop(hLav,{borderColor:'rgba(90,100,170,.4)'}),loop(hC1),loop(hC2),loop(hC3),loop(hC4a),loop(hC4b),loop(hSpotBo),loop(hSpotCo)],
 anno:{ox:390,oy:615,size:12,
  texts:[['A-MnO_{2}',205,118,'l',14,'#dfe3f5'],['Mn-O',428,460,'c',11.5,'#ffffff'],['k (Å^{-1})',530,785,'c',13],['R (Å^{-1})',60,348,'c',13,null,true]]}});
// (i)
panel({l:747,r:974,t:632,b:842},{x:[2.01,14.02],y:[1,4],xTicks:heatTicksX,yTicks:heatTicksY,minorX:[6,10,14],minorY:[1.5,2.5,3.5],tickSize:13,frame:'axes',tickPad:4,
 heat:{base:heatCol.base,blur:5,layers:[[iMid,heatCol.mid],[iLav,heatCol.lav],[iWhite,heatCol.white],[iC1,heatCol.pale],[iC2,heatCol.pink],[iC3,heatCol.red],[iC4a,heatCol.deep],[iC4b,heatCol.deep],
   ...iDark.map(p=>[p,heatCol.dark]),[iSpotA,'#2a44a0'],[iSpotBo,heatCol.ring],[iSpotBi,'#1c3294'],[iSpotCo,heatCol.ring],[iSpotCi,'#1c3294']]},
 ds:[loop(iLav,{borderColor:'rgba(90,100,170,.4)'}),loop(iC0),loop(iC1),loop(iC2),loop(iC3),loop(iC4a),loop(iC4b),loop(iSpotBo),loop(iSpotCo)],
 anno:{ox:690,oy:615,size:12,
  texts:[['CMC-MnO_{2}',210,125,'l',14,'#dfe3f5'],['Mn-O',430,527,'c',11.5,'#ffffff'],['k (Å^{-1})',505,790,'c',13],['R (Å^{-1})',70,365,'c',13,null,true]]}});

// ---------- page text ----------
function fmt(s){return s.replace(/MnO2/g,'MnO<sub>2</sub>').replace(/\^\{([^}]*)\}/g,'<sup>$1</sup>').replace(/\[\[([^\]]*)\]\]/g,'<span class="lnk">$1</span>')}
function line(cls,html,x,y,w,style){
  const d=document.createElement('div');d.className='t '+cls;d.innerHTML=fmt(html);d.style.left=x+'px';d.style.top=(y-10)+'px';
  if(style)d.style.cssText+=';'+style;page.appendChild(d);
  if(w){const nat=d.getBoundingClientRect().width,sp=(d.textContent.match(/ /g)||[]).length;if(sp)d.style.wordSpacing=((w-nat)/sp)+'px'}
  return d;
}
function fit(html,x,y,w,style){
  const d=line('',html,x,y,null,style);const nat=d.offsetWidth;d.dataset.nat=nat;
  d.style.transformOrigin='0 50%';d.style.transform=`scaleX(${w/nat})`;return d;
}
[['(a)',88,150],['(b)',387,150],['(c)',683,150],['(d)',96,381],['(e)',390,381],['(f)',688,381],['(g)',95,628],['(h)',392,626],['(i)',692,628]].forEach(p=>{
  line('',p[0],p[1],p[2],null,`font:bold 24px ${SANS};color:#1a1a1a;line-height:20px`)});
// header
fit('ADVANCED',95,55,141,`font:bold 24px ${SANS};color:#2b2b2b;line-height:20px;-webkit-text-stroke:.7px #2b2b2b`);
fit('SCIENCE NEWS',87,73,158,`font:19.5px ${SANS};color:#2b2b2b;line-height:20px;-webkit-text-stroke:.3px #2b2b2b`);
const hr=document.createElement('div');hr.style.cssText='position:absolute;left:252px;top:81px;width:619px;height:1px;background:#555';page.appendChild(hr);
fit('www.advancedsciencenews.com',87,96,216,`font:bold 13.5px "Open Sans",sans-serif;color:#1b1be0;line-height:20px`);
fit('ADVANCED',880,48,94,`font:bold 18px ${SANS};color:#8c8c8c;line-height:20px;-webkit-text-stroke:.5px #8c8c8c`);
fit('FUNCTIONAL',876,62,103,`font:18px ${SANS};color:#333;line-height:20px`);
fit('MATERIALS',883,76,91,`font:italic bold 18px ${SANS};color:#8c8c8c;line-height:20px;-webkit-text-stroke:.5px #8c8c8c`);
fit('www.afm-journal.de',845,96,134,`font:bold 13.5px "Open Sans",sans-serif;color:#1b1be0;line-height:20px`);
// side text
const side=fit('16163028, 2025, 1, Downloaded from https://advanced.onlinelibrary.wiley.com/doi/10.1002/adfm.202411990 by China University Of Mining, Wiley Online Library on [28/07/2025]. See the Terms and Conditions (https://onlinelibrary.wiley.com/terms-and-conditions) on Wiley Online Library for rules of use; OA articles are governed by the applicable Creative Commons License',0,0,1350,`font:7.6px "Liberation Serif",serif;color:#333;line-height:10px`);
side.style.transformOrigin='0 0';side.style.left='1052px';side.style.top='30px';
side.style.transform=`rotate(90deg) scaleX(${1350/Number(side.dataset.nat)})`;
// caption
const capLines=[['<b>Figure 4.</b>  High-resolution XPS: a) O 1s; b) Mn 2p spectra; c) Mn 3s spectra of A-MnO2 and CMC-MnO2; d) Raman spectra of A-MnO2 and CMC-MnO2;',903,892],
 ['e) PL spectra of A-MnO2 and CMC-MnO2; f) The normalized Mn K-edge XANES curves for A-MnO2 and CMC-MnO2; g) Fourier-transformed EXAFS',921,892],
 ['spectra for A-MnO2 and CMC-MnO2; h,i) WT-EXAFS of A-MnO2 and CMC-MnO2 for the Mn K-edge.',939,596]];
capLines.forEach(c=>line('cap',c[0],87,c[1],c[2]));
// body
const bodyL=[
 ['shows the best performance in both specific capacity and rate',433],
 ['retention. Ragone plots (specific energy vs specific power) are',433],
 ['used to elucidate the cell performance. As shown in Figure [[5e]],',433],
 ['Zn||CMC-MnO2 can reach a high-specific energy of 446.5 Wh',433],
 ['kg^{−1} at 658.2 W kg^{−1}. The performance is superior to the recent',433],
 ['reported cathode materials based ZIBs.^{[[[56–60]]]}',299],
 ['In addition, we have performed cyclic tests on Zn||A-MnO2',415,18],
 ['and Zn||CMC-MnO2 at a low current density of 0.1 A g^{−1}, it',433],
 ['is shown in Figure [[S9]] (Supporting Information). The initial',433],
 ['Coulombic efficiency of Zn||A-MnO2 is 95.7%, while that of',433],
 ['Zn||CMC-MnO2 is 97.8%, indicating that Zn||CMC-MnO2 ex-',433],
 ['hibits a higher initial Coulombic efficiency and therefore experi-',433],
 ['ences lower energy loss during charge and discharge processes.',433],
 ['Additionally, Zn||CMC-MnO2 achieves a higher specific capacity',433],
 ['of ≈440 mAh g^{−1} compared to ≈320 mAh g^{−1} of Zn||A-MnO2 at',433],
 ['0.1 A g^{−1}. Therefore, CMC-MnO2 exhibits superior performance',433]];
const bodyR=[
 ['over Zn||A-MnO2 in terms of initial Coulombic efficiency and',434],
 ['specific capacity under low current density conditions. The cy-',434],
 ['cle stability of Zn||CMC-MnO2 and Zn||A-MnO2 at 0.5 A g^{−1}',434],
 ['is shown in Figure [[5f]]. The Zn||CMC-MnO2 cell demonstrates',434],
 ['a high and stable specific capacity of 321 mAh g^{−1} during the',434],
 ['200 runs with ≈100% retention. In contrast, Zn||A-MnO2 shows',434],
 ['only 64% capacity retention after 200 cycles. Furthermore, the',434],
 ['long-term cycling tests at a high current density of 1.5 A g^{−1} are',434],
 ['also performed (Figure [[5g]]). The cell can reach 86.2% retention',434],
 ['of the initial capacity after a long cycle test of 1000 cycles with',434],
 ['≈100% coulombic efficiency, suggesting a promising cycling sta-',434],
 ['bility. As a contrast, the capacity of the Zn||A-MnO2 is sharply',434],
 ['reduced from the 210 to 26 mAh g^{−1} after 1000 cycles. To fur-',434],
 ['ther evaluate the performance of the material, we also conducted',434],
 ['a long cycle test of CMC-MnO2 at the high current density of 3',434],
 ['A g^{−1}.^{[[[61]]]} As shown in Figure [[S10]] (Supporting Information), the',434]];
bodyL.forEach((b,i)=>line('body',b[0],87+(b[2]||0),992+i*19.7,b[1]));
bodyR.forEach((b,i)=>line('body',b[0],545,992+i*19.7,b[1]));
// footer
line('cap','<i>Adv. Funct. Mater.</i> <b>2025</b>, <i>35</i>, 2411990',87,1346,190,'font-size:11.6px');
line('cap','<b>2411990 (6 of 13)</b>',475,1346,115,'font-size:13.5px;color:#222');
line('cap','© 2024 Wiley-VCH GmbH',842,1346,137,'font-size:11.6px');
</script></body></html>
